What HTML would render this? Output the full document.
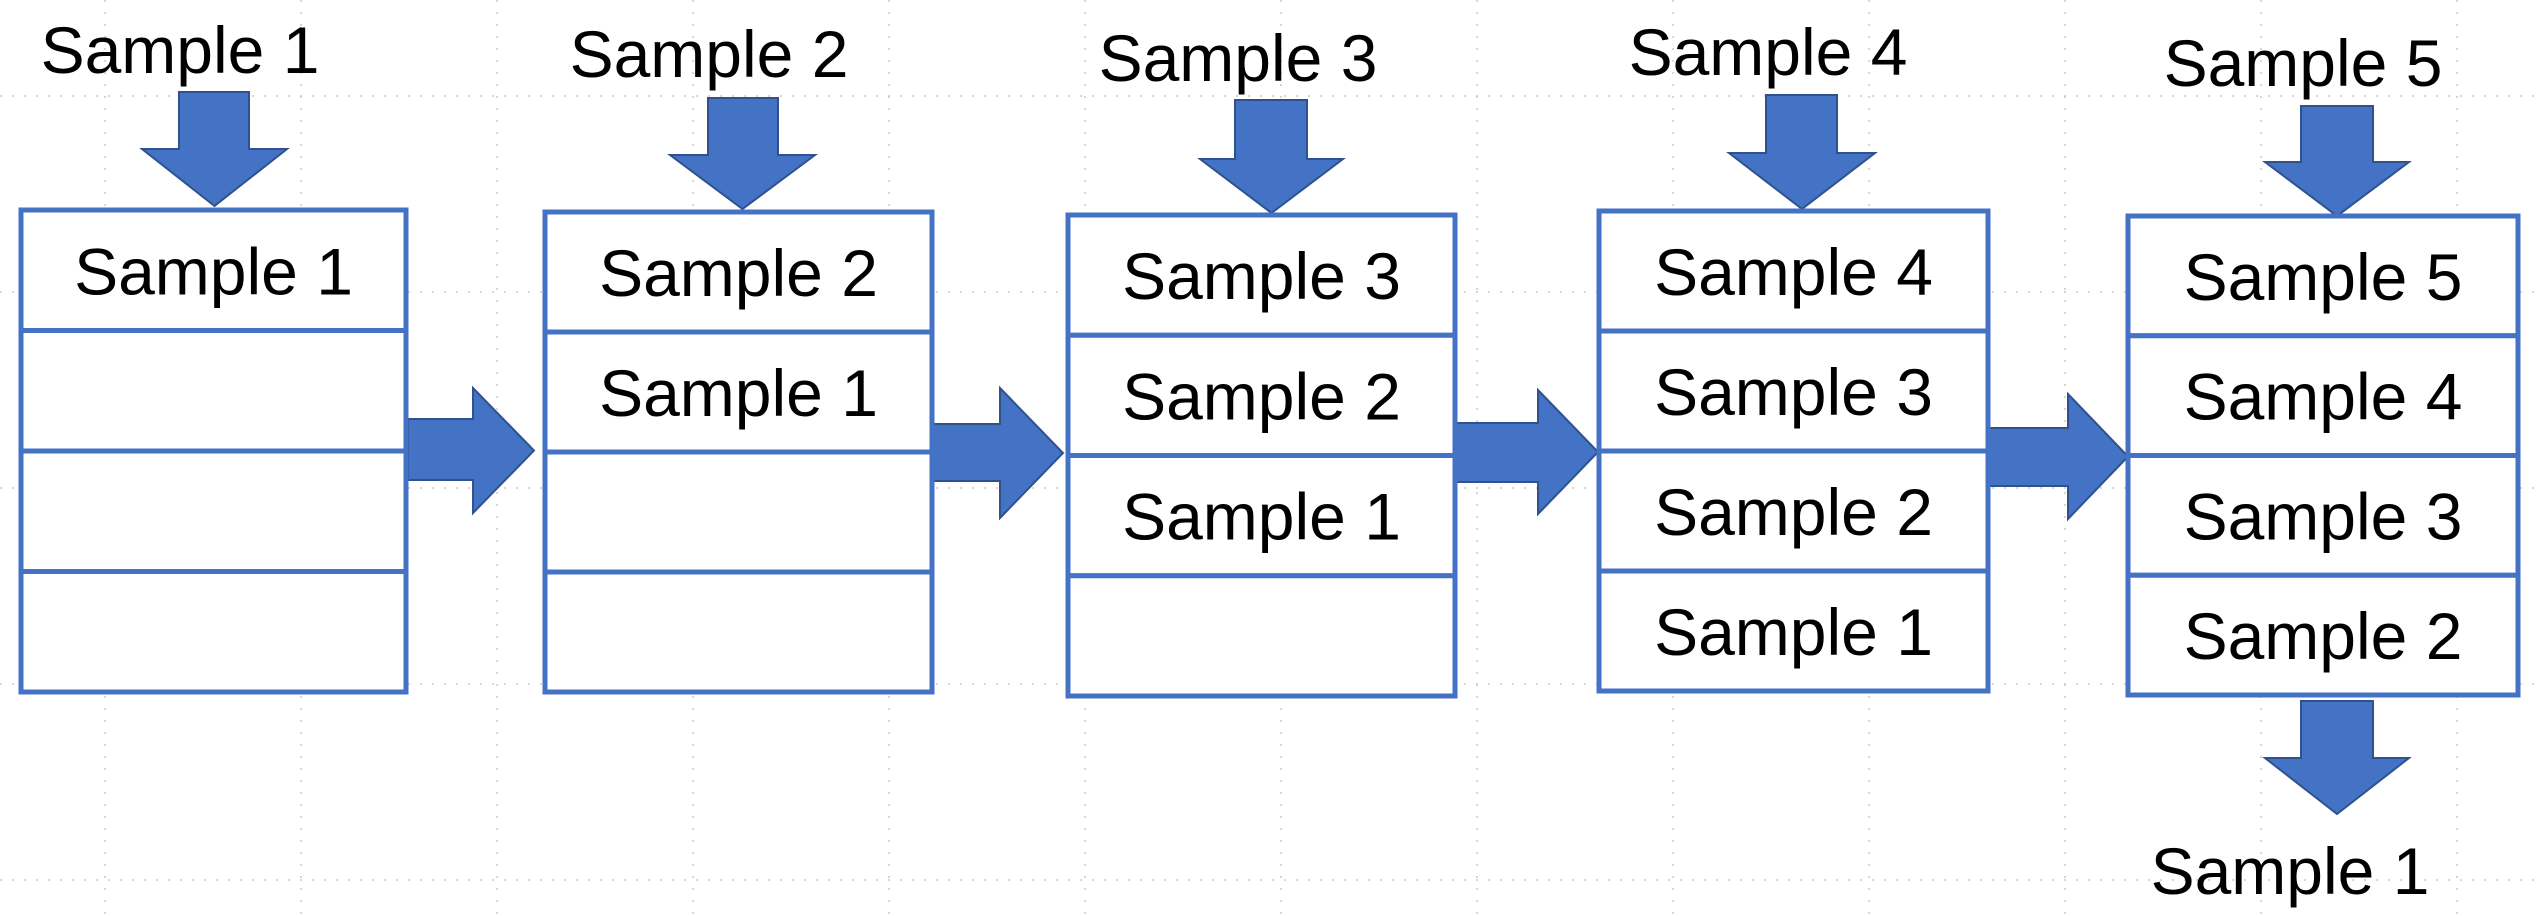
<!DOCTYPE html>
<html><head><meta charset="utf-8"><style>
html,body{margin:0;padding:0;background:#fff;}
svg{display:block;}
text{font-family:"Liberation Sans",sans-serif;font-size:66px;fill:#000;}
</style></head><body>
<svg id="c" width="2537" height="916" viewBox="0 0 2537 916">
<g id="grid"></g>
<g id="g"></g>
</svg>
<script>
const NS='http://www.w3.org/2000/svg';
const gridXs=[105,301,497,693,889,1085,1281,1477,1673,1869,2065,2261,2457];
const gridYs=[96,292,488,684,880];
const boxLefts=[21,545,1068,1599,2128];
const boxRights=[406,932,1455,1988,2518];
const boxTops=[210,212,215,211,216];
const boxBottoms=[692,692,696,691,695];
const cellLabels=[["Sample 1","","",""],["Sample 2","Sample 1","",""],["Sample 3","Sample 2","Sample 1",""],["Sample 4","Sample 3","Sample 2","Sample 1"],["Sample 5","Sample 4","Sample 3","Sample 2"]];
const topLabels=["Sample 1","Sample 2","Sample 3","Sample 4","Sample 5"];
const topLabelX=[180,709,1238,1768,2303];
const topLabelY=[73,77,81,75,86];
const downArrows=[[179,249,142,287,92,149,206],[708,778,670,815,98,155,209],[1235,1307,1200,1343,100,159,213],[1766,1837,1729,1875,95,153,209],[2301,2373,2265,2409,106,162,216],[2301,2373,2265,2409,701,758,814]];
const rightArrows=[[408,473,534,419,480,388,513],[932,1000,1063,424,481,388,518],[1455,1538,1598,423,482,390,514],[1988,2068,2128,428,486,394,519]];
const grid=document.getElementById('grid'),g=document.getElementById('g');
function mk(t,a,p){const e=document.createElementNS(NS,t);for(const k in a)e.setAttribute(k,a[k]);(p||g).appendChild(e);return e;}
gridXs.forEach(x=>{const l=mk('line',{x1:x,y1:0,x2:x,y2:916,stroke:'#c8c8c8','stroke-width':1.5,'stroke-dasharray':'2 10'},grid);

});
gridYs.forEach(y=>{const l=mk('line',{x1:0,y1:y,x2:2537,y2:y,stroke:'#c8c8c8','stroke-width':1.5,'stroke-dasharray':'2 10'},grid);

});
downArrows.forEach((a,i)=>{const [s1,s2,h1,h2,top,sh,tip]=a;const c=(h1+h2)/2;
const p=mk('polygon',{points:`${s1},${top} ${s2},${top} ${s2},${sh} ${h2},${sh} ${c},${tip} ${h1},${sh} ${s1},${sh}`,fill:'#4472C4',stroke:'#2F528F','stroke-width':2});

});
rightArrows.forEach((a,i)=>{const [x1,hx,tx,s1,s2,h1,h2]=a;const c=(h1+h2)/2;
const p=mk('polygon',{points:`${x1},${s1} ${hx},${s1} ${hx},${h1} ${tx},${c} ${hx},${h2} ${hx},${s2} ${x1},${s2}`,fill:'#4472C4',stroke:'#2F528F','stroke-width':2});

});
boxLefts.forEach((x,i)=>{const x2=boxRights[i],t=boxTops[i],b=boxBottoms[i],h=(b-t)/4;
for(let r=0;r<4;r++){const y=t+r*h;
const rc=mk('rect',{x:x,y:y,width:x2-x,height:h,fill:'#fff',stroke:'#4472C4','stroke-width':5});


if(cellLabels[i][r]){const tx=mk('text',{x:(x+x2)/2,y:y+h*0.7,'text-anchor':'middle'});tx.textContent=cellLabels[i][r];

}}
const tl=mk('text',{x:topLabelX[i],y:topLabelY[i],'text-anchor':'middle'});tl.textContent=topLabels[i];

});
const ol=mk('text',{x:2290,y:894,'text-anchor':'middle'});ol.textContent='Sample 1';


</script>
</body></html>
